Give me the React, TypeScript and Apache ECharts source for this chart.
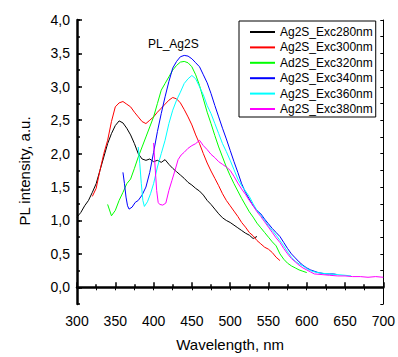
import React, { useEffect, useRef } from "react";
import * as echarts from "echarts";

const seriesNames = [
  "Ag2S_Exc280nm",
  "Ag2S_Exc300nm",
  "Ad2S_Exc320nm",
  "Ag2S_Exc340nm",
  "Ag2S_Exc360nm",
  "Ag2S_Exc380nm",
];
const seriesColors = ["#000000", "#ff0000", "#00ff00", "#0000ff", "#00ffff", "#ff00ff"];

const xTicks = [300, 350, 400, 450, 500, 550, 600, 650, 700];
const yCategories = Array.from({ length: 18 }, (_, i) => String(i));

const wl280 = [300, 305, 310, 315, 320, 325, 330, 335, 340, 345, 350, 355, 360, 365, 370, 375, 380, 385, 390, 395, 400, 405, 410, 415, 420, 425, 430, 435, 440, 445, 450, 455, 460, 465, 470, 475, 480, 485, 490, 495, 500, 505, 510, 515, 520, 525, 530, 535];
const pl280 = [1.05, 1.12, 1.22, 1.3, 1.42, 1.55, 1.75, 1.95, 2.15, 2.3, 2.42, 2.49, 2.46, 2.38, 2.28, 2.15, 2.0, 1.92, 1.9, 1.92, 1.88, 1.9, 1.87, 1.91, 1.84, 1.78, 1.73, 1.68, 1.63, 1.57, 1.53, 1.48, 1.44, 1.38, 1.3, 1.24, 1.17, 1.1, 1.04, 1.0, 0.97, 0.93, 0.89, 0.85, 0.81, 0.78, 0.73, 0.76];

const wl300 = [320, 325, 330, 335, 340, 345, 350, 355, 360, 365, 370, 375, 380, 385, 390, 395, 400, 405, 410, 415, 420, 425, 430, 435, 440, 445, 450, 455, 460, 465, 470, 475, 480, 485, 490, 495, 500, 505, 510, 515, 520, 525, 530, 535, 540, 545, 550, 555, 560, 565];
const pl300 = [1.36, 1.48, 1.75, 2.0, 2.2, 2.48, 2.7, 2.76, 2.78, 2.74, 2.7, 2.62, 2.55, 2.48, 2.45, 2.5, 2.55, 2.62, 2.68, 2.74, 2.8, 2.84, 2.82, 2.76, 2.66, 2.55, 2.43, 2.28, 2.15, 2.0, 1.86, 1.74, 1.63, 1.52, 1.4, 1.3, 1.22, 1.14, 1.06, 0.97, 0.9, 0.82, 0.77, 0.7, 0.65, 0.6, 0.57, 0.52, 0.45, 0.4];

const wl320 = [340, 345, 350, 355, 360, 365, 370, 375, 380, 385, 390, 395, 400, 405, 410, 415, 420, 425, 430, 435, 440, 445, 450, 455, 460, 465, 470, 475, 480, 485, 490, 495, 500, 505, 510, 515, 520, 525, 530, 535, 540, 545, 550, 555, 560, 565, 570, 575, 580, 585, 590, 595, 600];
const pl320 = [1.24, 1.07, 1.15, 1.3, 1.42, 1.55, 1.62, 1.78, 1.95, 2.1, 2.25, 2.4, 2.55, 2.75, 2.95, 3.05, 3.15, 3.25, 3.32, 3.37, 3.38, 3.36, 3.3, 3.18, 3.02, 2.82, 2.62, 2.45, 2.27, 2.1, 1.95, 1.8, 1.67, 1.55, 1.44, 1.33, 1.23, 1.13, 1.05, 0.96, 0.89, 0.82, 0.75, 0.68, 0.62, 0.5, 0.42, 0.36, 0.32, 0.29, 0.26, 0.24, 0.22];

const wl340 = [360, 362, 364, 366, 368, 372, 376, 380, 385, 390, 395, 400, 405, 410, 415, 420, 425, 430, 435, 440, 445, 450, 455, 460, 465, 470, 475, 480, 485, 490, 495, 500, 505, 510, 515, 520, 525, 530, 535, 540, 545, 550, 555, 560, 565, 570, 575, 580, 585, 590, 595, 600, 605, 610, 615, 620, 625, 630, 635, 640];
const pl340 = [1.72, 1.55, 1.35, 1.22, 1.17, 1.2, 1.27, 1.3, 1.38, 1.5, 1.72, 2.02, 2.33, 2.6, 2.85, 3.08, 3.28, 3.38, 3.45, 3.47, 3.46, 3.42, 3.36, 3.3, 3.18, 3.06, 2.9, 2.72, 2.55, 2.38, 2.22, 2.05, 1.88, 1.72, 1.55, 1.42, 1.32, 1.22, 1.15, 1.1, 1.02, 0.95, 0.88, 0.82, 0.76, 0.67, 0.58, 0.5, 0.44, 0.38, 0.33, 0.29, 0.26, 0.24, 0.22, 0.21, 0.2, 0.2, 0.2, 0.19];

const wl360 = [380, 382, 384, 386, 388, 392, 396, 400, 405, 410, 415, 420, 425, 430, 435, 440, 445, 450, 455, 460, 465, 470, 475, 480, 485, 490, 495, 500, 505, 510, 515, 520, 525, 530, 535, 540, 545, 550, 555, 560, 565, 570, 575, 580, 585, 590, 595, 600, 605, 610, 615, 620, 630, 640, 650, 658];
const pl360 = [2.1, 1.85, 1.55, 1.3, 1.21, 1.28, 1.4, 1.55, 1.8, 2.0, 2.2, 2.45, 2.65, 2.8, 2.92, 3.05, 3.12, 3.17, 3.12, 3.0, 2.88, 2.72, 2.6, 2.45, 2.3, 2.15, 2.03, 1.9, 1.76, 1.62, 1.52, 1.44, 1.36, 1.25, 1.15, 1.08, 1.0, 0.92, 0.85, 0.78, 0.7, 0.62, 0.53, 0.45, 0.39, 0.35, 0.32, 0.28, 0.25, 0.23, 0.22, 0.21, 0.2, 0.19, 0.18, 0.17];

const wl380 = [400, 402, 404, 406, 408, 412, 416, 420, 424, 428, 432, 436, 440, 445, 450, 455, 460, 465, 470, 475, 480, 485, 490, 495, 500, 505, 510, 515, 520, 525, 530, 535, 540, 545, 550, 555, 560, 565, 570, 575, 580, 585, 590, 595, 600, 605, 610, 620, 630, 640, 650, 660, 670, 680, 690, 700];
const pl380 = [2.16, 1.8, 1.45, 1.27, 1.24, 1.23, 1.26, 1.45, 1.6, 1.75, 1.91, 1.98, 2.02, 2.08, 2.12, 2.15, 2.2, 2.12, 2.06, 1.99, 1.94, 1.88, 1.84, 1.8, 1.75, 1.66, 1.56, 1.47, 1.39, 1.3, 1.22, 1.13, 1.06, 0.98, 0.9, 0.82, 0.74, 0.67, 0.58, 0.5, 0.43, 0.38, 0.33, 0.29, 0.26, 0.23, 0.2, 0.19, 0.18, 0.17, 0.17, 0.16, 0.16, 0.15, 0.16, 0.15];

const wavelengths = [wl280, wl300, wl320, wl340, wl360, wl380];
const intensities = [pl280, pl300, pl320, pl340, pl360, pl380];

const FONT = "Liberation Sans, Arial, sans-serif";

export default function App() {
  const ref = useRef<HTMLDivElement>(null);
  useEffect(() => {
    document.body.style.margin = "0";
    if (!ref.current) return;
    const chart = echarts.init(ref.current, null, { renderer: "svg" });
    const fmtY = (v: number) =>
      Math.abs(v * 2 - Math.round(v * 2)) < 1e-6 && v >= 0 ? v.toFixed(1).replace(".", ",") : "";
    chart.setOption({
      animation: false,
      backgroundColor: "#ffffff",
      title: {
        text: "PL_Ag2S",
        left: 143,
        top: 33,
        textStyle: { fontFamily: FONT, fontSize: 12, fontWeight: "normal", color: "#000" },
      },
      legend: {
        orient: "vertical",
        left: 239,
        top: 21,
        padding: [5, 3, 2, 10],
        itemWidth: 25,
        itemHeight: 13,
        itemGap: 3.4,
        itemStyle: { opacity: 0 },
        borderColor: "#000",
        borderWidth: 1,
        backgroundColor: "#ffffff",
        textStyle: { fontFamily: FONT, fontSize: 12, color: "#000" },
        data: seriesNames,
      },
      grid: { left: 77, right: 10, top: 20, bottom: 52, containLabel: false },
      xAxis: [
        {
          type: "value",
          position: "bottom",
          min: xTicks[0],
          max: xTicks[xTicks.length - 1],
          interval: 50,
          name: "Wavelength, nm",
          nameLocation: "middle",
          nameGap: 33,
          nameTextStyle: { fontFamily: FONT, fontSize: 15, color: "#000" },
          axisLine: { show: true, lineStyle: { color: "#000", width: 2.5 } },
          axisTick: { show: true, inside: true, length: 5, lineStyle: { color: "#000", width: 1.5 } },
          minorTick: { show: true, splitNumber: 2, length: 3, lineStyle: { color: "#000", width: 1.5 } },
          axisLabel: { fontFamily: FONT, fontSize: 14, color: "#000", margin: 10 },
          splitLine: { show: false },
          minorSplitLine: { show: false },
        },
        {
          type: "value",
          position: "top",
          min: xTicks[0],
          max: xTicks[xTicks.length - 1],
          interval: 50,
          axisLine: { show: true, lineStyle: { color: "#000", width: 1 } },
          axisTick: { show: true, inside: true, length: 3, lineStyle: { color: "#000" } },
          minorTick: { show: true, splitNumber: 2, length: 3, lineStyle: { color: "#000" } },
          axisLabel: { show: false },
          splitLine: { show: false },
        },
      ],
      yAxis: [
        {
          type: "value",
          position: "left",
          min: -0.25,
          max: 4,
          interval: 0.25,
          name: "PL intensity, a.u.",
          nameLocation: "middle",
          nameGap: 45,
          nameTextStyle: { fontFamily: FONT, fontSize: 15, color: "#000", padding: [0, 18, 0, 0] },
          axisLine: { show: true, lineStyle: { color: "#000", width: 2.5 } },
          axisTick: { show: true, inside: true, length: 3, lineStyle: { color: "#000", width: 1.5 } },
          axisLabel: { fontFamily: FONT, fontSize: 14, color: "#000", margin: 7, formatter: fmtY },
          splitLine: { show: false },
        },
        {
          type: "value",
          position: "right",
          min: -0.25,
          max: 4,
          interval: 0.25,
          axisLine: { show: true, lineStyle: { color: "#000", width: 1 } },
          axisTick: { show: true, inside: true, length: 3, lineStyle: { color: "#000" } },
          axisLabel: { show: false },
          splitLine: { show: false },
        },
        {
          type: "category",
          position: "left",
          data: yCategories,
          boundaryGap: false,
          axisLine: { show: false },
          axisTick: {
            show: true,
            inside: true,
            length: 5,
            interval: (i: number) => i % 2 === 1,
            lineStyle: { color: "#000", width: 1.5 },
          },
          axisLabel: { show: false },
          splitLine: { show: false },
        },
      ],
      series: seriesNames.map((name, k) => ({
        name,
        type: "line",
        xAxisIndex: 0,
        yAxisIndex: 0,
        symbol: "none",
        showSymbol: false,
        color: seriesColors[k],
        lineStyle: { color: seriesColors[k], width: 1 },
        data: wavelengths[k].map((w, i) => [w, intensities[k][i]]),
      })),
    });
    return () => chart.dispose();
  }, []);
  return <div ref={ref} style={{ position: "absolute", left: 0, top: 0, width: 398, height: 357 }} />;
}
